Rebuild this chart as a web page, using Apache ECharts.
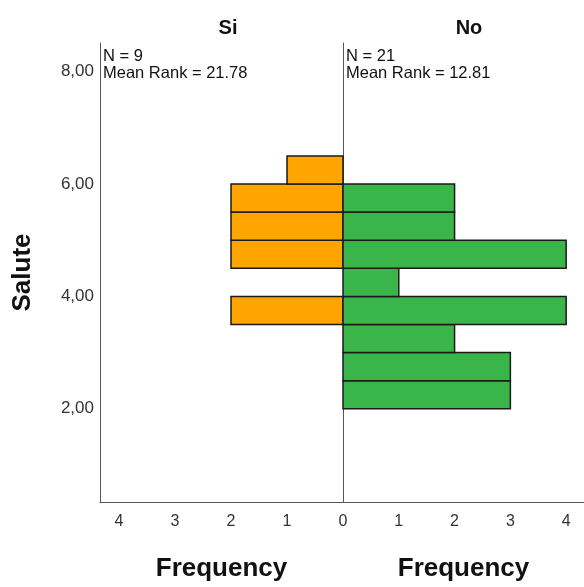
<!DOCTYPE html>
<html>
<head>
<meta charset="utf-8">
<script src="https://cdn.jsdelivr.net/npm/echarts@6/dist/echarts.min.js"></script>
<style>
  html, body { margin: 0; padding: 0; background: #fff; }
  #main { width: 584px; height: 587px; }
</style>
</head>
<body>
<div id="main"></div>
<script>
// histogram bins (lower edge), width 0.5
var binStart = [2.0, 2.5, 3.0, 3.5, 4.0, 4.5, 5.0, 5.5, 6.0]
var siCounts = [0, 0, 0, 2, 0, 2, 2, 2, 1]
var noCounts = [3, 3, 2, 4, 1, 4, 2, 2, 0]
var binWidth = 0.5
var groups = ['Si', 'No']
var statsText = ['N = 9\nMean Rank = 21.78', 'N = 21\nMean Rank = 12.81']

var chart = echarts.init(document.getElementById('main'))
var font = 'Liberation Sans, Arial, sans-serif'

function makeData(counts) {
  var out = []
  for (var i = 0; i < counts.length; i++) {
    if (counts[i] > 0) out.push([binStart[i], counts[i]])
  }
  return out
}

function renderBar(params, api) {
  var start = api.value(0)
  var count = api.value(1)
  var p1 = api.coord([0, start + binWidth])
  var p2 = api.coord([count, start])
  return {
    type: 'rect',
    shape: {
      x: Math.min(p1[0], p2[0]),
      y: p1[1],
      width: Math.abs(p2[0] - p1[0]),
      height: p2[1] - p1[1]
    },
    style: api.style({ stroke: '#1a1a1a', lineWidth: 1.5 })
  }
}

function isInt(v) {
  return Math.abs(v - Math.round(v)) < 1e-6
}

var axisLineStyle = { show: true, onZero: false, lineStyle: { color: '#555', width: 1 } }
var labelStyle = { color: '#333', fontSize: 16, fontFamily: font }

var option = {
  animation: false,
  backgroundColor: '#fff',
  title: [
    { text: groups[0], left: 223, top: 13, textAlign: 'center',
      textStyle: { fontSize: 20, fontWeight: 'bold', color: '#111', fontFamily: font } },
    { text: groups[1], left: 464, top: 13, textAlign: 'center',
      textStyle: { fontSize: 20, fontWeight: 'bold', color: '#111', fontFamily: font } }
  ],
  graphic: [
    { type: 'text', left: 103, top: 48,
      style: { text: statsText[0], fontSize: 16.5, lineHeight: 17, fill: '#111', fontFamily: font } },
    { type: 'text', left: 346, top: 48,
      style: { text: statsText[1], fontSize: 16.5, lineHeight: 17, fill: '#111', fontFamily: font } }
  ],
  grid: [
    { left: 100, top: 43, width: 243, height: 463 },
    { left: 343, top: 43, width: 243, height: 463 }
  ],
  xAxis: [
    {
      type: 'value', gridIndex: 0, inverse: true, min: 0, max: 4.34,
      axisLine: axisLineStyle, axisTick: { show: false }, splitLine: { show: false },
      axisLabel: Object.assign({ margin: 12, showMinLabel: false, showMaxLabel: false,
        formatter: function (v) { return (v > 0 && isInt(v)) ? String(Math.round(v)) : '' } }, labelStyle),
      name: 'Frequency', nameLocation: 'middle', nameGap: 54,
      nameTextStyle: { fontSize: 26, fontWeight: 'bold', color: '#111', fontFamily: font }
    },
    {
      type: 'value', gridIndex: 1, min: 0, max: 4.32,
      axisLine: axisLineStyle, axisTick: { show: false }, splitLine: { show: false },
      axisLabel: Object.assign({ margin: 12, showMaxLabel: false,
        formatter: function (v) { return isInt(v) ? String(Math.round(v)) : '' } }, labelStyle),
      name: 'Frequency', nameLocation: 'middle', nameGap: 54,
      nameTextStyle: { fontSize: 26, fontWeight: 'bold', color: '#111', fontFamily: font }
    }
  ],
  yAxis: [
    {
      type: 'value', gridIndex: 0, min: 0.34, max: 8.51,
      axisLine: axisLineStyle, axisTick: { show: false }, splitLine: { show: false },
      axisLabel: Object.assign({ margin: 6, showMinLabel: false, showMaxLabel: false,
        formatter: function (v) { return isInt(v) ? v.toFixed(2).replace('.', ',') : '' } }, labelStyle, { fontSize: 17 }),
      name: 'Salute', nameLocation: 'middle', nameGap: 64,
      nameTextStyle: { fontSize: 26, fontWeight: 'bold', color: '#111', fontFamily: font }
    },
    {
      type: 'value', gridIndex: 1, min: 0.34, max: 8.51,
      axisLine: axisLineStyle, axisTick: { show: false }, splitLine: { show: false },
      axisLabel: { show: false }
    }
  ],
  series: [
    {
      name: groups[0], type: 'custom', xAxisIndex: 0, yAxisIndex: 0,
      itemStyle: { color: '#ffa500' },
      renderItem: renderBar, data: makeData(siCounts)
    },
    {
      name: groups[1], type: 'custom', xAxisIndex: 1, yAxisIndex: 1,
      itemStyle: { color: '#39b54a' },
      renderItem: renderBar, data: makeData(noCounts)
    }
  ]
}

chart.setOption(option)
</script>
</body>
</html>
